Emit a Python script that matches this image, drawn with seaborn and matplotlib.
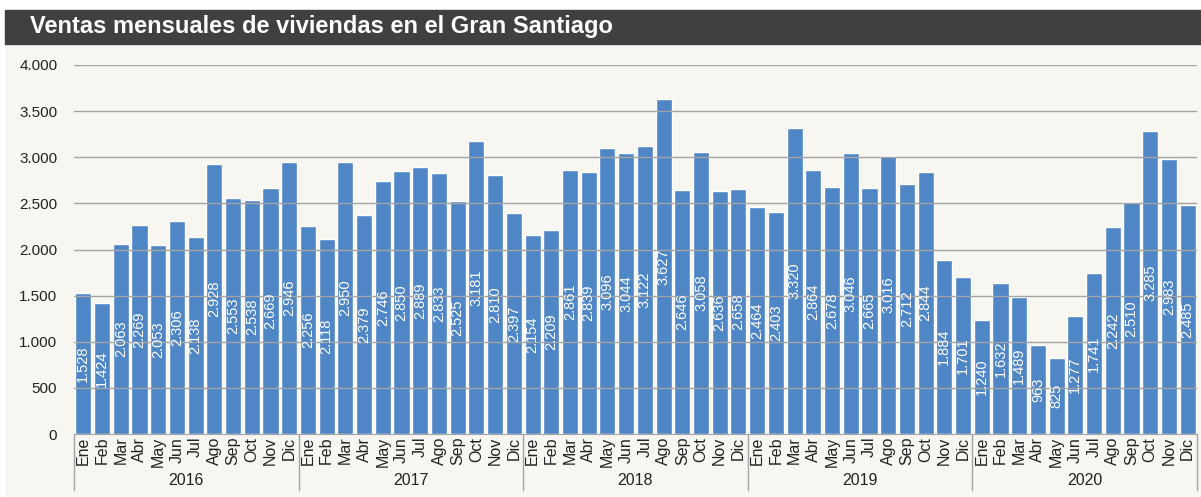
import pandas as pd
import matplotlib.pyplot as plt
import seaborn as sns

# monthly sales, Gran Santiago
years = ["2016", "2017", "2018", "2019", "2020"]
months = ["Ene", "Feb", "Mar", "Abr", "May", "Jun", "Jul", "Ago", "Sep", "Oct", "Nov", "Dic"]

ventas_2016 = [1528, 1424, 2063, 2269, 2053, 2306, 2138, 2928, 2553, 2538, 2669, 2946]
ventas_2017 = [2256, 2118, 2950, 2379, 2746, 2850, 2889, 2833, 2525, 3181, 2810, 2397]
ventas_2018 = [2154, 2209, 2861, 2839, 3096, 3044, 3122, 3627, 2646, 3058, 2636, 2658]
ventas_2019 = [2464, 2403, 3320, 2864, 2678, 3046, 2665, 3016, 2712, 2844, 1884, 1701]
ventas_2020 = [1240, 1632, 1489, 963, 825, 1277, 1741, 2242, 2510, 3285, 2983, 2485]

y_ticks = [0, 500, 1000, 1500, 2000, 2500, 3000, 3500, 4000]

series = [ventas_2016, ventas_2017, ventas_2018, ventas_2019, ventas_2020]
rows = []
for yr, vals in zip(years, series):
    for m, v in zip(months, vals):
        rows.append({"key": f"{yr}-{m}", "year": yr, "mes": m, "ventas": v})
df = pd.DataFrame(rows)


def fmt(v):
    return f"{v:,}".replace(",", ".")


sns.set_style("white")
plt.rcParams["font.family"] = ["Liberation Sans", "DejaVu Sans"]

bg = "#f7f6f1"
fig = plt.figure(figsize=(12.01, 4.97), dpi=100, facecolor=bg)

# title bar
fig.patches.append(plt.Rectangle((0, 0), 0.004, 1, transform=fig.transFigure, color="white", zorder=0))
fig.patches.append(plt.Rectangle((0, 0.982), 1, 0.02, transform=fig.transFigure, color="white", zorder=0))
fig.patches.append(plt.Rectangle((0.004, 1 - 44 / 497), 0.996, 34 / 497,
                                 transform=fig.transFigure, color="#404040", zorder=1))
fig.text(0.025, 1 - 27 / 497, "Ventas mensuales de viviendas en el Gran Santiago",
         color="white", fontsize=17, fontweight="bold", va="center", ha="left")

ax = fig.add_axes([74 / 1201, 1 - 434 / 497, 1123 / 1201, 369 / 497])
ax.set_facecolor(bg)

sns.barplot(data=df, x="key", y="ventas", color="#4f86c6", width=0.86,
            saturation=1, ax=ax, zorder=2)

ax.set_ylim(0, 4000)
ax.set_xlim(-0.5, len(df) - 0.5)
ax.set_yticks(y_ticks)
ax.set_yticklabels([fmt(t) for t in y_ticks], fontsize=11, color="#222222")
for t in y_ticks[1:]:
    ax.axhline(t, color="#a4a4a4", lw=1, zorder=3)

ax.set_xticks(range(len(df)))
ax.set_xticklabels(df["mes"], rotation=90, fontsize=11.5, color="#222222")
ax.tick_params(axis="x", length=0, pad=2)
ax.tick_params(axis="y", length=0, pad=12)
ax.set_xlabel("")
ax.set_ylabel("")

for s in ["top", "right", "left"]:
    ax.spines[s].set_visible(False)
ax.spines["bottom"].set_color("#a4a4a4")

ax.bar_label(ax.containers[0], labels=[fmt(v) for v in df["ventas"]],
             label_type="center", rotation=90, color="white", fontsize=10.5, zorder=4)

# year separators and labels
xt = ax.get_xaxis_transform()
for i in range(len(years) + 1):
    ax.plot([i * 12 - 0.5, i * 12 - 0.5], [0, -0.152], transform=xt,
            color="#a4a4a4", lw=1, clip_on=False)
for i, yr in enumerate(years):
    ax.text(i * 12 + 5.5, -0.125, yr, transform=xt, ha="center", va="center",
            fontsize=11.5, color="#222222")

plt.savefig("out.png", dpi=100, facecolor=bg)
